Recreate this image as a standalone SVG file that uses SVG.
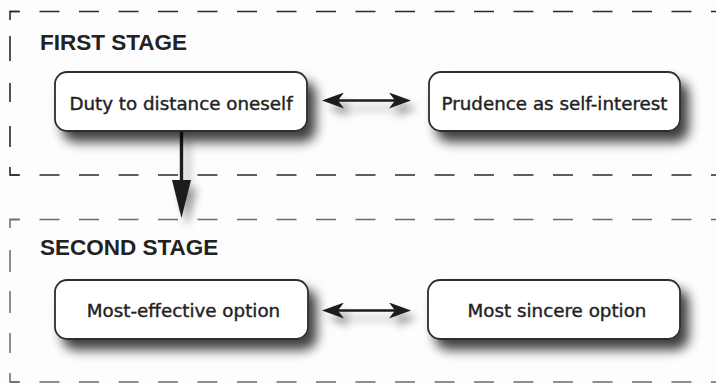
<svg xmlns="http://www.w3.org/2000/svg" width="716" height="383" viewBox="0 0 716 383">
<defs>
<style>
.bg{fill:#fdfdfd}
.dash1{stroke:#2a2a2a;stroke-width:1.6;fill:none}
.dash2{stroke:#6a6a6a;stroke-width:1.5;fill:none}
.hd{stroke-dasharray:20 19.5;stroke-dashoffset:10}
.node{fill:#ffffff;stroke:#2e2e2e;stroke-width:1.8}
.lbl{font-family:"DejaVu Sans","Liberation Sans",sans-serif;font-size:18.3px;fill:#222;stroke:#222;stroke-width:0.4;text-anchor:middle}
.title{font-family:"Liberation Sans",Arial,sans-serif;font-weight:bold;font-size:22.5px;fill:#222}
.conn{stroke:#1e1e1e;fill:none}
</style>
<filter id="sh" x="-20%" y="-40%" width="150%" height="210%">
<feGaussianBlur in="SourceAlpha" stdDeviation="6"/>
<feOffset dx="8" dy="10" result="b"/>
<feComponentTransfer><feFuncA type="linear" slope="0.75"/></feComponentTransfer>
<feMerge><feMergeNode/><feMergeNode in="SourceGraphic"/></feMerge>
</filter>
<filter id="ash" x="-30%" y="-100%" width="160%" height="400%">
<feGaussianBlur in="SourceAlpha" stdDeviation="4"/>
<feOffset dx="6" dy="8" result="b"/>
<feComponentTransfer><feFuncA type="linear" slope="0.4"/></feComponentTransfer>
<feMerge><feMergeNode/><feMergeNode in="SourceGraphic"/></feMerge>
</filter>
<marker id="ah" viewBox="0 0 22 16" refX="14" refY="8" markerWidth="22" markerHeight="16" markerUnits="userSpaceOnUse" orient="auto-start-reverse">
<path d="M0,0 L22,8 L0,16 L6,8 Z" fill="#1e1e1e"/>
</marker>
<marker id="bh" viewBox="0 0 38 19" refX="10" refY="9.5" markerWidth="38" markerHeight="19" markerUnits="userSpaceOnUse" orient="auto">
<path d="M0,0 L38,9.5 L0,19 Z" fill="#1e1e1e"/>
</marker>
</defs>
<rect class="bg" x="0" y="0" width="716" height="383"/>

<g id="stage1-frame" class="dash1">
<path d="M10,20 V11.5 H19"/>
<line class="hd" x1="10" y1="11.5" x2="716" y2="11.5"/>
<path d="M10,36 V61 M10,83 V102 M10,126 V147"/>
<path d="M10,167 V175 H19"/>
<line class="hd" x1="10" y1="175" x2="716" y2="175"/>
</g>
<g id="stage2-frame" class="dash2">
<path d="M10,228 V219.5 H19"/>
<line class="hd" x1="10" y1="219.5" x2="716" y2="219.5"/>
<path d="M10,250 V272 M10,291 V313 M10,333 V353"/>
<path d="M10,373 V382 H19"/>
<line class="hd" x1="10" y1="382" x2="716" y2="382"/>
</g>

<text class="title" x="40" y="50">FIRST STAGE</text>
<text class="title" x="40" y="255">SECOND STAGE</text>

<g id="connectors" class="conn" filter="url(#ash)">
<line x1="330" y1="100.5" x2="403" y2="100.5" stroke-width="2.3" marker-start="url(#ah)" marker-end="url(#ah)"/>
<line x1="330" y1="310.5" x2="403" y2="310.5" stroke-width="2.3" marker-start="url(#ah)" marker-end="url(#ah)"/>
<line x1="181.5" y1="131" x2="181.5" y2="190" stroke-width="3.4" marker-end="url(#bh)"/>
</g>

<g id="node-duty">
<rect class="node" x="55" y="72" width="252" height="59" rx="12" filter="url(#sh)"/>
<text class="lbl" x="181" y="110">Duty to distance oneself</text>
</g>
<g id="node-prudence">
<rect class="node" x="429" y="72" width="251" height="59" rx="12" filter="url(#sh)"/>
<text class="lbl" x="554.5" y="110">Prudence as self-interest</text>
</g>
<g id="node-effective">
<rect class="node" x="55" y="280" width="253" height="59" rx="12" filter="url(#sh)"/>
<text class="lbl" x="183.5" y="317">Most-effective option</text>
</g>
<g id="node-sincere">
<rect class="node" x="428" y="280" width="252" height="59" rx="12" filter="url(#sh)"/>
<text class="lbl" x="557" y="317">Most sincere option</text>
</g>
</svg>
